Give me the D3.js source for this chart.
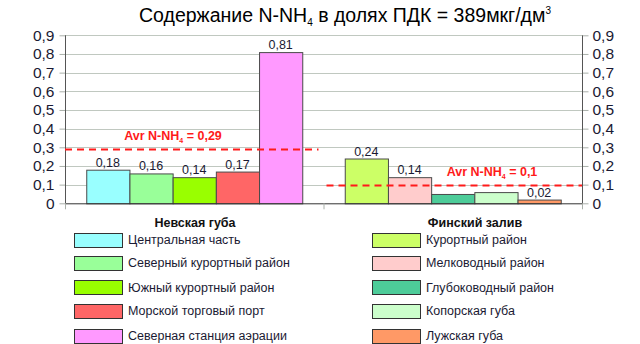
<!DOCTYPE html>
<html>
<head>
<meta charset="utf-8">
<script src="https://cdn.jsdelivr.net/npm/d3@7"></script>
<style>
  html, body { margin: 0; padding: 0; background: #fff; }
  svg { display: block; font-family: "Liberation Sans", Arial, sans-serif; }
</style>
</head>
<body>
<svg id="chart" width="640" height="344"></svg>
<script>
// Ammonium nitrogen (N-NH4) as share of the maximum permissible concentration
const groups = ["Невская губа", "Финский залив"];
const nevaNames = ["Центральная часть", "Северный курортный район", "Южный курортный район", "Морской торговый порт", "Северная станция аэрации"];
const nevaValues = [0.18, 0.16, 0.14, 0.17, 0.81];
const nevaLabels = ["0,18", "0,16", "0,14", "0,17", "0,81"];
const nevaColors = ["#99ffff", "#99ff99", "#99ff00", "#ff6666", "#ff99ff"];
const finNames = ["Курортный район", "Мелководный район", "Глубоководный район", "Копорская губа", "Лужская губа"];
const finValues = [0.24, 0.14, 0.05, 0.06, 0.02];
const finLabels = ["0,24", "0,14", "", "", "0,02"];
const finColors = ["#ccff66", "#ffcccc", "#4dcc99", "#ccffcc", "#ff9966"];
const avgValues = [0.29, 0.1];
const avgTexts = ["0,29", "0,1"];
const yTicks = [0, 0.1, 0.2, 0.3, 0.4, 0.5, 0.6, 0.7, 0.8, 0.9];

const svg = d3.select("#chart");
const plot = { left: 65, right: 582, top: 35.3, bottom: 203.3 };
const textColor = "#1a1a33";

const x0 = d3.scaleBand().domain(groups).range([plot.left, plot.right]).paddingInner(0).paddingOuter(0);
const y = d3.scaleLinear().domain([0, 0.9]).range([plot.bottom, plot.top]);
const groupWidth = 216;
const x1 = d3.scaleBand().domain(d3.range(5)).range([0, groupWidth]).padding(0);

// Gridlines
svg.append("g").selectAll("line").data(yTicks.slice(1)).join("line")
  .attr("x1", plot.left).attr("x2", plot.right)
  .attr("y1", d => Math.round(y(d)) + 0.5).attr("y2", d => Math.round(y(d)) + 0.5)
  .attr("stroke", "#c0c8c0").attr("stroke-width", 1);

// Y axes (left and right)
const fmt = d => d === 0 ? "0" : d3.format(".1f")(d).replace(".", ",");
const leftAxis = svg.append("g").attr("transform", `translate(${plot.left + 0.5},0)`)
  .call(d3.axisLeft(y).tickValues(yTicks).tickFormat(fmt).tickSize(6).tickPadding(5));
const rightAxis = svg.append("g").attr("transform", `translate(${plot.right + 0.5},0)`)
  .call(d3.axisRight(y).tickValues(yTicks).tickFormat(fmt).tickSize(6).tickPadding(4));
[leftAxis, rightAxis].forEach(a => {
  a.select(".domain").attr("d", null);
  a.selectAll(".tick line").attr("stroke", "#aab0aa");
  a.selectAll(".tick text").attr("fill", textColor).style("font-size", "15.5px")
    .style("font-family", "'Liberation Sans', Arial, sans-serif");
});
[plot.left, plot.right].forEach(xx => {
  svg.append("line").attr("x1", xx + 0.5).attr("x2", xx + 0.5)
    .attr("y1", plot.top).attr("y2", plot.bottom).attr("stroke", "#555");
});

// Bars
const series = [
  { names: nevaNames, values: nevaValues, labels: nevaLabels, colors: nevaColors },
  { names: finNames, values: finValues, labels: finLabels, colors: finColors }
];
series.forEach((s, gi) => {
  const gx = x0(groups[gi]) + (x0.bandwidth() - groupWidth) / 2;
  const g = svg.append("g").attr("transform", `translate(${gx},0)`);
  g.selectAll("rect").data(s.values).join("rect")
    .attr("x", (d, i) => x1(i) + 0.5)
    .attr("y", d => y(d) + 0.5)
    .attr("width", x1.bandwidth())
    .attr("height", d => plot.bottom - y(d))
    .attr("fill", (d, i) => s.colors[i])
    .attr("stroke", "#4a4a4a").attr("stroke-width", 1);
  g.selectAll("text").data(s.values).join("text")
    .attr("x", (d, i) => x1(i) + x1.bandwidth() / 2)
    .attr("y", d => y(d) - 3)
    .attr("text-anchor", "middle")
    .attr("fill", textColor).style("font-size", "12.5px")
    .text((d, i) => s.labels[i]);
});

// Baseline and category ticks
svg.append("line").attr("x1", plot.left).attr("x2", plot.right + 1)
  .attr("y1", plot.bottom + 0.5).attr("y2", plot.bottom + 0.5).attr("stroke", "#333");
svg.append("g").selectAll("line").data([plot.left, x0(groups[1]), plot.right]).join("line")
  .attr("x1", d => d + 0.5).attr("x2", d => d + 0.5)
  .attr("y1", plot.bottom).attr("y2", plot.bottom + 6).attr("stroke", "#aab0aa");

// Average lines with labels
const avgSpans = [[plot.left, x0(groups[0]) + x0.bandwidth() - 5], [x0(groups[1]) + 3, plot.right]];
const avgLabelX = [173, 492];
avgValues.forEach((v, i) => {
  svg.append("line")
    .attr("x1", avgSpans[i][0]).attr("x2", avgSpans[i][1])
    .attr("y1", Math.round(y(v)) + 0.5).attr("y2", Math.round(y(v)) + 0.5)
    .attr("stroke", "#ff1a1a").attr("stroke-width", 2).attr("stroke-dasharray", "7,5");
  const t = svg.append("text").attr("x", avgLabelX[i]).attr("y", y(v) - 9)
    .attr("text-anchor", "middle").attr("fill", "#ff1a1a")
    .style("font-size", "12.5px").style("font-weight", "bold");
  t.append("tspan").text("Avr N-NH");
  t.append("tspan").attr("dy", 3).style("font-size", "7px").text("4");
  t.append("tspan").attr("dy", -3).text(" = " + avgTexts[i]);
});

// Title
const title = svg.append("text").attr("x", 345).attr("y", 22).attr("text-anchor", "middle")
  .attr("fill", "#000").style("font-size", "19.5px");
title.append("tspan").text("Содержание N-NH");
title.append("tspan").attr("dy", 4).style("font-size", "10px").text("4");
title.append("tspan").attr("dy", -4).text(" в долях ПДК = 389мкг/дм");
title.append("tspan").attr("dy", -8).style("font-size", "10px").text("3");

// Legends
const legendCols = [
  { x: 74, titleX: 195, title: groups[0], names: nevaNames, colors: nevaColors },
  { x: 372, titleX: 475, title: groups[1], names: finNames, colors: finColors }
];
const rowY = [239.5, 262.5, 287, 310.5, 335.5];
legendCols.forEach(c => {
  svg.append("text").attr("x", c.titleX).attr("y", 227).attr("text-anchor", "middle")
    .attr("fill", "#111").style("font-size", "12.5px").style("font-weight", "bold").text(c.title);
  const g = svg.append("g");
  c.names.forEach((n, i) => {
    g.append("rect").attr("x", c.x + 0.5).attr("y", Math.round(rowY[i] - 7) + 0.5)
      .attr("width", 48).attr("height", 14)
      .attr("fill", c.colors[i]).attr("stroke", "#333");
    g.append("text").attr("x", c.x + 54).attr("y", rowY[i] + 4.5)
      .attr("fill", textColor).style("font-size", "12.5px").text(n);
  });
});
</script>
</body>
</html>
